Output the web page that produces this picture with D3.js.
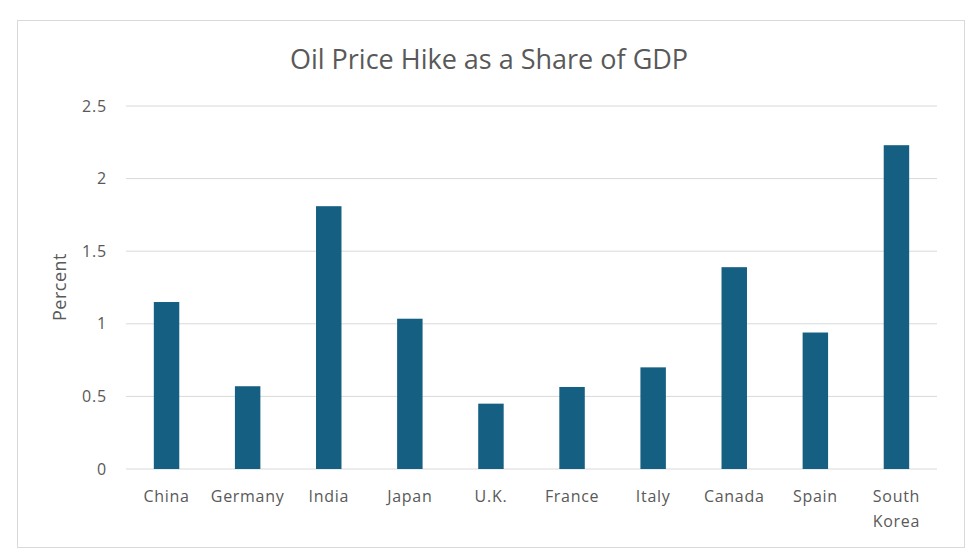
<!DOCTYPE html>
<html lang="en">
<head>
    <meta charset="UTF-8">
    <title>Oil Price Hike as a Share of GDP</title>
    <script src="https://d3js.org/d3.v7.min.js"></script>
    <style>
        body { margin: 0; background: #fff; }
        text { font-family: "Open Sans", "Noto Sans", sans-serif; fill: #595959; }
        .title { font-size: 27px; text-anchor: middle; }
        .y-axis .tick text { font-size: 16px; letter-spacing: 0.8px; }
        .x-axis .tick text { font-size: 16px; letter-spacing: 0.7px; }
        .axis-label { font-size: 18px; letter-spacing: 0.5px; }
    </style>
</head>
<body>
    <svg id="chart" width="980" height="560"></svg>

    <script>
        const countries = ["China", "Germany", "India", "Japan", "U.K.", "France", "Italy", "Canada", "Spain", "South Korea"];
        const values = [1.15, 0.57, 1.81, 1.035, 0.45, 0.565, 0.70, 1.39, 0.94, 2.23];
        const yTicks = [0, 0.5, 1, 1.5, 2, 2.5];

        const margin = { top: 106, right: 43, bottom: 91, left: 126 };
        const width = 980 - margin.left - margin.right;
        const height = 560 - margin.top - margin.bottom;

        const root = d3.select("#chart");

        // outer frame
        root.append("rect")
            .attr("x", 17.5).attr("y", 20.5)
            .attr("width", 947).attr("height", 527)
            .attr("fill", "#fff")
            .attr("stroke", "#d9d9d9");

        root.append("text")
            .attr("class", "title")
            .attr("x", 489)
            .attr("y", 69)
            .text("Oil Price Hike as a Share of GDP");

        const svg = root.append("g")
            .attr("transform", `translate(${margin.left},${margin.top})`);

        const x = d3.scaleBand().domain(countries).range([0, width]).paddingInner(0.686).paddingOuter(0.343);
        const y = d3.scaleLinear().domain([0, 2.5]).range([height, 0]);

        // gridlines
        svg.append("g")
            .selectAll("line")
            .data(yTicks)
            .join("line")
            .attr("x1", 0).attr("x2", width)
            .attr("y1", d => y(d)).attr("y2", d => y(d))
            .attr("stroke", "#d9d9d9")
            .attr("stroke-width", 1);

        svg.selectAll(".bar")
            .data(countries)
            .join("rect")
            .attr("class", "bar")
            .attr("x", d => x(d))
            .attr("y", (d, i) => y(values[i]))
            .attr("width", x.bandwidth())
            .attr("height", (d, i) => height - y(values[i]))
            .attr("fill", "#156082");

        const yAxis = svg.append("g")
            .attr("class", "y-axis")
            .call(d3.axisLeft(y).tickValues(yTicks).tickSize(0).tickPadding(19).tickFormat(d => d));
        yAxis.select(".domain").remove();

        const xAxis = svg.append("g")
            .attr("class", "x-axis")
            .attr("transform", `translate(0,${height})`)
            .call(d3.axisBottom(x).tickSize(0).tickPadding(22));
        xAxis.select(".domain").remove();

        // wrap "South Korea" onto two lines
        xAxis.selectAll(".tick text").each(function(d) {
            const words = d.split(" ");
            if (words.length > 1) {
                const t = d3.select(this).text(null);
                words.forEach((w, i) => {
                    t.append("tspan")
                        .attr("x", 0)
                        .attr("dy", i === 0 ? "0.71em" : "1.55em")
                        .text(w);
                });
                t.attr("dy", null);
            }
        });

        root.append("text")
            .attr("class", "axis-label")
            .attr("transform", "rotate(-90)")
            .attr("x", -287)
            .attr("y", 66)
            .style("text-anchor", "middle")
            .text("Percent");
    </script>
</body>
</html>
